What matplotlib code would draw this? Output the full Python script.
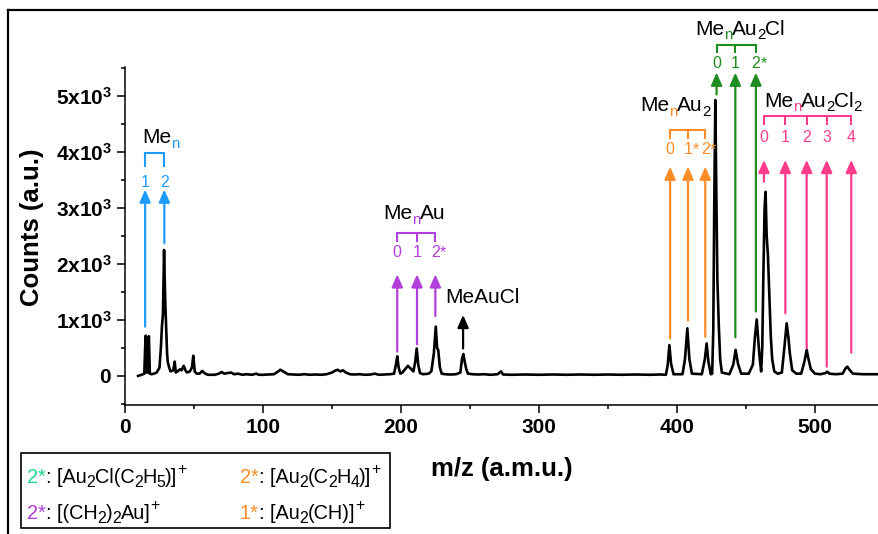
import matplotlib
matplotlib.use('Agg')
import matplotlib.pyplot as plt
from matplotlib import transforms as mtransforms
from matplotlib.lines import Line2D
from matplotlib.patches import Rectangle
from matplotlib.ticker import FixedLocator, MultipleLocator

plt.rcParams['font.family'] = ['Liberation Sans', 'DejaVu Sans']
plt.rcParams['mathtext.fontset'] = 'custom'
plt.rcParams['mathtext.rm'] = 'Liberation Sans'
plt.rcParams['mathtext.bf'] = 'Liberation Sans:bold'

# ---------------- data ----------------
MZ = [9.5, 12, 14, 14.6, 15, 15.6, 16.5, 16.9, 17.3, 18, 19, 21, 23, 25, 26, 26.8, 27.5, 28.3,
      29.2, 29.8, 30.5, 31, 32, 33, 35, 36, 36.8, 38, 40, 41, 42.5, 44, 45, 47, 48.5, 49.5, 50.5,
      52, 54, 56, 57.5, 60, 65, 68, 70, 72, 74, 77, 79, 82, 85, 88, 92, 95, 97, 100, 104, 108,
      111, 112.5, 114, 116, 118, 122, 126, 130, 134, 138, 142, 146, 150, 152, 154, 156, 158, 160,
      163, 166, 170, 174, 178, 181, 184, 188, 192, 195, 196.3, 197.3, 198.3, 199.5, 201, 203, 205,
      207, 209, 210.3, 211.4, 212.5, 213.8, 216, 220, 222, 223.8, 225.2, 226.2, 227, 228.2, 229.5,
      232, 236, 240, 243, 244.2, 245.2, 246.2, 247.3, 248.5, 252, 256, 260, 265, 270, 272.5, 274,
      280, 290, 300, 310, 320, 330, 340, 350, 360, 370, 380, 388, 392, 393.3, 394.5, 395.7, 397.5,
      404, 405.8, 407.5, 409, 410.8, 418, 420.2, 421.5, 422.8, 424.5, 425.5, 426.3, 427, 427.8,
      428.5, 429.3, 430.3, 431.3, 432.5, 438, 440.8, 442.5, 444.2, 446.5, 452, 455, 456.5, 457.8,
      459, 460, 461, 461.8, 462.6, 463.5, 464.2, 465, 465.9, 467, 468, 469, 470.5, 473, 476,
      477.8, 479.5, 480.7, 481.8, 483.5, 486.5, 490, 492.3, 494, 495.3, 497, 500, 504, 507.5, 509,
      510.5, 515, 520, 522.3, 523.5, 525, 527.5, 535, 550]
COUNTS = [0, 20, 40, 500, 720, 60, 60, 500, 710, 40, 30, 40, 60, 150, 500, 900, 1100, 2250,
          1300, 900, 400, 250, 150, 80, 100, 255, 60, 80, 120, 100, 180, 90, 60, 80, 150, 360, 80,
          40, 40, 90, 50, 20, 20, 40, 70, 40, 50, 60, 30, 40, 20, 30, 20, 40, 20, 20, 25, 30,
          80, 110, 90, 60, 30, 25, 20, 30, 20, 25, 20, 30, 60, 90, 110, 80, 100, 60,
          30, 25, 30, 20, 25, 40, 20, 25, 30, 40, 200, 350, 150, 40, 60, 120, 180,
          130, 80, 250, 490, 200, 50, 30, 40, 80, 400, 880, 500, 460, 150, 40,
          30, 25, 30, 60, 300, 390, 250, 120, 40, 30, 25, 30, 20, 30, 80, 25,
          20, 25, 20, 25, 20, 25, 20, 25, 20, 25, 20, 25, 20, 200, 550, 220, 30,
          30, 300, 850, 300, 40, 30, 300, 580, 250, 30, 40, 800, 3000, 4930,
          3300, 1700, 900, 300, 60, 30, 200, 465, 220, 40, 40, 200, 700, 1010,
          600, 300, 80, 500, 1800, 3000, 3290, 2500, 2160, 1400, 700, 300, 80, 40, 60,
          500, 940, 700, 400, 100, 40, 40, 250, 465, 300, 120, 40, 30, 50, 75,
          40, 30, 40, 140, 165, 110, 40, 30, 30]

XTICKS = [0, 100, 200, 300, 400, 500]
YTICKS = [0, 1000, 2000, 3000, 4000, 5000]
YTICK_LABELS = [r'$\mathbf{0}$', r'$\mathbf{1x10^3}$', r'$\mathbf{2x10^3}$',
                r'$\mathbf{3x10^3}$', r'$\mathbf{4x10^3}$', r'$\mathbf{5x10^3}$']

BLUE = '#1E9BFF'
PURPLE = '#B23FDC'
ORANGE = '#FF8C28'
GREEN = '#1E8C1E'
PINK = '#FF3C8C'
MINT = '#22D68A'

# annotation groups: arrow x, arrow bottoms, labels
MEN_X = [14.6, 28.5]
MEN_BOT = [880, 2370]
MEN_LABELS = ['1', '2']
MENAU_X = [197.3, 211.6, 224.9]
MENAU_BOT = [435, 565, 1070]
MENAU_LABELS = ['0', '1', '2*']
MENAU2_X = [395, 408, 420.5]
MENAU2_BOT = [670, 990, 700]
MENAU2_LABELS = ['0', '1*', '2*']
MENAU2CL_X = [428.7, 442.3, 457.2]
MENAU2CL_BOT = [5030, 690, 1150]
MENAU2CL_LABELS = ['0', '1', '2*']
MENAU2CL2_X = [463, 478.5, 494, 508.5, 526.3]
MENAU2CL2_BOT = [3470, 1120, 495, 165, 415]
MENAU2CL2_LABELS = ['0', '1', '2', '3', '4']
MEAUCL_X = 245
MEAUCL_BOT = 490
MEAUCL_TOP = 1090

# ---------------- figure ----------------
fig = plt.figure(figsize=(8.79, 5.34), dpi=100)
ax = fig.add_axes([125 / 879, 1 - 405 / 534, (879 - 125) / 879, (405 - 67) / 534])
ax.plot(MZ, COUNTS, color='black', lw=1.9)
ax.set_xlim(0, 546.4)
ax.set_ylim(-520, 5520)
for s in ['top', 'right']:
    ax.spines[s].set_visible(False)
for s in ['left', 'bottom']:
    ax.spines[s].set_linewidth(1.1)
ax.xaxis.set_major_locator(FixedLocator(XTICKS))
ax.xaxis.set_minor_locator(MultipleLocator(50))
ax.yaxis.set_major_locator(FixedLocator(YTICKS))
ax.yaxis.set_minor_locator(MultipleLocator(500))
ax.set_yticklabels(YTICK_LABELS)
ax.tick_params(which='major', direction='out', length=5.5, width=1.1, labelsize=15, pad=4)
ax.tick_params(which='minor', direction='out', length=3.2, width=1.1)
for lab in ax.get_xticklabels() + ax.get_yticklabels():
    lab.set_fontweight('bold')
ax.set_xlabel('m/z (a.m.u.)', fontsize=18.5, fontweight='bold', labelpad=14)
ax.set_ylabel('Counts (a.u.)', fontsize=18.5, fontweight='bold')
ax.yaxis.set_label_coords(-0.108, 0.527)

# outer frame (partially visible)
fig.add_artist(Line2D([8 / 879, 1.0], [1 - 10 / 534] * 2, transform=fig.transFigure,
                      color='black', lw=1.6))
fig.add_artist(Line2D([8 / 879] * 2, [0, 1 - 10 / 534], transform=fig.transFigure,
                      color='black', lw=1.6))

renderer = fig.canvas.get_renderer()


def rich(x, y, parts, fs, transform, anchor='left', sub_ratio=0.72, kern=0.4):
    items = []
    cursor = 0.0
    prev = None
    for s, color, kind in parts:
        size = fs if kind == 'n' else fs * sub_ratio
        if kind == 'sub':
            dy = -0.22 * fs * fig.dpi / 72
        elif kind == 'sup':
            dy = 0.45 * fs * fig.dpi / 72
        else:
            dy = 0.0
        if prev is not None and prev != kind:
            cursor -= kern
        t = fig.text(x, y, s, transform=transform, fontsize=size, color=color,
                     ha='left', va='baseline')
        w = t.get_window_extent(renderer).width
        items.append((t, cursor, dy))
        cursor += w
        prev = kind
    shift = -cursor / 2 if anchor == 'center' else 0.0
    for t, cx, dy in items:
        t.set_transform(mtransforms.offset_copy(transform, x=cx + shift, y=dy, units='dots'))


def group(xs, bots, top, labels, lab_y, br_top, br_leg, color):
    for x, b in zip(xs, bots):
        ax.annotate('', xy=(x, top), xytext=(x, b),
                    arrowprops=dict(arrowstyle='-|>,head_length=0.5,head_width=0.22',
                                    color=color, lw=1.6, shrinkA=0, shrinkB=0,
                                    mutation_scale=15),
                    annotation_clip=False)
    for x, lab in zip(xs, labels):
        digit = lab.rstrip('*')
        t = ax.text(x, lab_y, digit, ha='center', va='baseline', fontsize=11.5, color=color)
        if lab.endswith('*'):
            ax.annotate('*', xy=(1, 0), xycoords=t, ha='left', va='bottom',
                        fontsize=11.5, color=color)
    ax.plot([xs[0], xs[-1]], [br_top, br_top], color=color, lw=1.5, clip_on=False,
            solid_capstyle='projecting')
    for x in xs:
        ax.plot([x, x], [br_leg, br_top], color=color, lw=1.5, clip_on=False,
                solid_capstyle='butt')


group(MEN_X, MEN_BOT, 3330, MEN_LABELS, 3375, 3975, 3740, BLUE)
group(MENAU_X, MENAU_BOT, 1815, MENAU_LABELS, 2125, 2560, 2400, PURPLE)
group(MENAU2_X, MENAU2_BOT, 3740, MENAU2_LABELS, 3970, 4400, 4240, ORANGE)
group(MENAU2CL_X, MENAU2CL_BOT, 5420, MENAU2CL_LABELS, 5500, 5920, 5770, GREEN)
group(MENAU2CL2_X, MENAU2CL2_BOT, 3860, MENAU2CL2_LABELS, 4180, 4640, 4490, PINK)

ax.annotate('', xy=(MEAUCL_X, MEAUCL_TOP), xytext=(MEAUCL_X, MEAUCL_BOT),
            arrowprops=dict(arrowstyle='-|>,head_length=0.5,head_width=0.22', color='black',
                            lw=1.6, shrinkA=0, shrinkB=0, mutation_scale=15))

K = 'black'
FS_T = 15
rich(12.8, 4160, [('Me', K, 'n'), ('n', BLUE, 'sub')], FS_T, ax.transData)
rich(187.2, 2800, [('Me', K, 'n'), ('n', PURPLE, 'sub'), ('Au', K, 'n')], FS_T, ax.transData)
rich(232.3, 1300, [('MeAuCl', K, 'n')], FS_T, ax.transData)
rich(373.2, 4730, [('Me', K, 'n'), ('n', ORANGE, 'sub'), ('Au', K, 'n'), ('2', K, 'sub')],
     FS_T, ax.transData)
rich(413, 6100, [('Me', K, 'n'), ('n', GREEN, 'sub'), ('Au', K, 'n'), ('2', K, 'sub'),
                 ('Cl', K, 'n')], FS_T, ax.transData)
rich(463.3, 4810, [('Me', K, 'n'), ('n', PINK, 'sub'), ('Au', K, 'n'), ('2', K, 'sub'),
                   ('Cl', K, 'n'), ('2', K, 'sub')], FS_T, ax.transData)

# legend box
fig.add_artist(Rectangle((21 / 879, 1 - 528 / 534), (390 - 21) / 879, (528 - 453) / 534,
                         transform=fig.transFigure, fill=False, ec='black', lw=1.2))
FS_L = 14.3
r1 = 1 - 483 / 534
r2 = 1 - 519 / 534
c1 = 27 / 879
c2 = 240 / 879
LEG = dict(sub_ratio=0.8, kern=0.3)
rich(c1, r1, [('2*', MINT, 'n'), (': [Au', K, 'n'), ('2', K, 'sub'), ('Cl(C', K, 'n'),
              ('2', K, 'sub'), ('H', K, 'n'), ('5', K, 'sub'), (')]', K, 'n'), ('+', K, 'sup')],
     FS_L, fig.transFigure, **LEG)
rich(c2, r1, [('2*', ORANGE, 'n'), (': [Au', K, 'n'), ('2', K, 'sub'), ('(C', K, 'n'),
              ('2', K, 'sub'), ('H', K, 'n'), ('4', K, 'sub'), (')]', K, 'n'), ('+', K, 'sup')],
     FS_L, fig.transFigure, **LEG)
rich(c1, r2, [('2*', PURPLE, 'n'), (': [(CH', K, 'n'), ('2', K, 'sub'), (')', K, 'n'),
              ('2', K, 'sub'), ('Au]', K, 'n'), ('+', K, 'sup')], FS_L, fig.transFigure, **LEG)
rich(c2, r2, [('1*', ORANGE, 'n'), (': [Au', K, 'n'), ('2', K, 'sub'), ('(CH)]', K, 'n'),
              ('+', K, 'sup')], FS_L, fig.transFigure, **LEG)

fig.savefig('out.png', dpi=100)
